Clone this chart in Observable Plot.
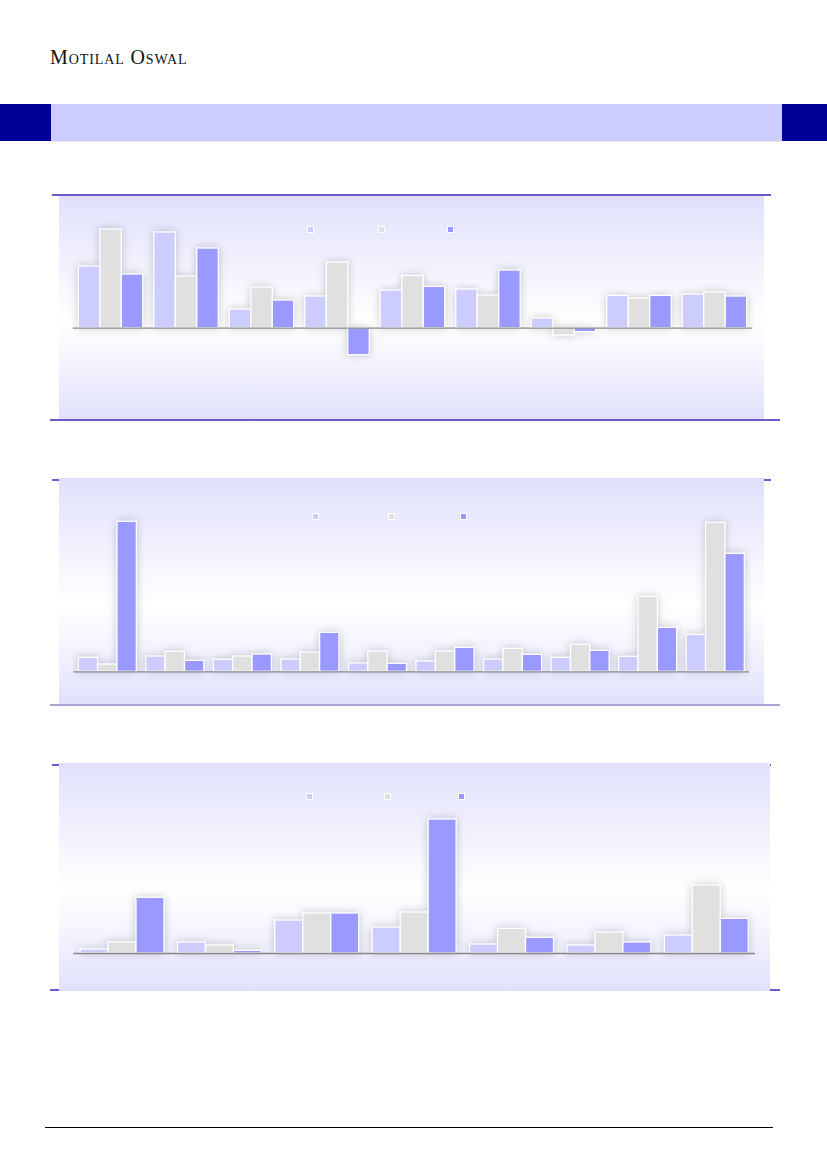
<!DOCTYPE html>
<html>
<head>
<meta charset="utf-8">
<script src="https://cdn.jsdelivr.net/npm/d3@7"></script>
<script src="https://cdn.jsdelivr.net/npm/@observablehq/plot@0.6"></script>
<style>
  body { margin: 0; background: #ffffff; }
  #page { position: relative; width: 827px; height: 1169px; overflow: hidden; background: #ffffff; }
  .abs { position: absolute; }
  .chart svg g[aria-label="bar"] { filter: drop-shadow(0 0 4px rgba(0,0,0,0.2)); }
  .brand { font-family: "Liberation Serif", "DejaVu Serif", serif; font-size: 20px; line-height: 20px;
           font-variant: small-caps; letter-spacing: 0.9px; color: #111; white-space: nowrap; }
  .sw { position: absolute; width: 5px; height: 5px; border: 1px solid #ffffff; }
</style>
</head>
<body>
<div id="page"></div>
<script>
// ---------- data ----------
const seriesNames = ["Series 1", "Series 2", "Series 3"];
const seriesColors = ["#CCCCFF", "#E0E0E0", "#9999FF"];

const chart1Groups = ["G1", "G2", "G3", "G4", "G5", "G6", "G7", "G8", "G9"];
const chart1S1 = [61.7, 95.7, 18.7, 31.7, 37.7, 38.7, 9.7, 32.3, 33.7];
const chart1S2 = [98.7, 51.7, 40.7, 65.7, 52.3, 32.7, -7.3, 29.7, 35.7];
const chart1S3 = [53.7, 79.7, 27.7, -27.0, 41.3, 57.7, -4.0, 32.3, 31.7];

const chart2Groups = ["H1", "H2", "H3", "H4", "H5", "H6", "H7", "H8", "H9", "H10"];
const chart2S1 = [14.0, 15.3, 12.0, 12.3, 8.3, 10.3, 12.3, 14.0, 15.0, 37.0];
const chart2S2 = [7.3, 20.0, 15.3, 19.3, 20.3, 20.3, 23.0, 27.0, 75.0, 149.0];
const chart2S3 = [150.0, 11.0, 17.3, 39.0, 8.0, 24.0, 17.0, 21.0, 44.0, 118.0];

const chart3Groups = ["K1", "K2", "K3", "K4", "K5", "K6", "K7"];
const chart3S1 = [4.0, 11.0, 33.0, 26.0, 9.0, 8.0, 18.0];
const chart3S2 = [11.0, 8.0, 40.0, 41.0, 24.7, 21.0, 68.0];
const chart3S3 = [55.7, 2.7, 40.0, 134.0, 15.7, 11.0, 34.7];

const brandText = "Motilal Oswal";

// ---------- page helpers ----------
const page = document.getElementById("page");
function box(x, y, w, h, bg, extra) {
  const d = document.createElement("div");
  d.className = "abs";
  Object.assign(d.style, { left: x + "px", top: y + "px", width: w + "px", height: h + "px", background: bg }, extra || {});
  page.appendChild(d);
  return d;
}

// header
const brand = document.createElement("div");
brand.className = "abs brand";
brand.style.left = "50px";
brand.style.top = "47px";
brand.textContent = brandText;
page.appendChild(brand);

box(0, 104, 51, 37, "#000099");
box(51, 104, 731, 37, "#CCCCFF");
box(782, 104, 45, 37, "#000099");
box(51, 141, 731, 1, "#E6E6F6");

// footer rule
box(45, 1127, 728, 1, "#000000");

// ---------- chart builder ----------
function drawChart(cfg) {
  const { groups, values, x, y, w, h, yDomain, padIn, padOut, mLeft, mRight, legend } = cfg;
  const data = [];
  groups.forEach((g, i) => seriesNames.forEach((s, j) => data.push({ group: g, series: s, value: values[j][i] })));
  const n = groups.length;
  const inner = w - mLeft - mRight;
  const step = inner / (n - padIn + 2 * padOut);
  const halfGap = step * padIn / 2;

  const svg = Plot.plot({
    width: w,
    height: h,
    marginTop: 0,
    marginBottom: 0,
    marginLeft: mLeft,
    marginRight: mRight,
    style: {
      background: "linear-gradient(180deg, #E0E0FC 0%, #F4F4FE 35%, #FFFFFF 56%, #F4F4FE 75%, #E0E0FC 100%)",
      overflow: "visible"
    },
    facet: { data, x: "group" },
    fx: { domain: groups, paddingInner: padIn, paddingOuter: padOut, round: false, axis: null, label: null },
    x: { domain: seriesNames, padding: 0, round: false, axis: null },
    y: { domain: yDomain, axis: null },
    color: { domain: seriesNames, range: seriesColors },
    marks: [
      Plot.barY(data, { x: "series", y: "value", fill: "series", stroke: "#ffffff", strokeWidth: 1.3 }),
      Plot.ruleY([0], { stroke: "#888888", strokeWidth: 1.3, insetLeft: -halfGap, insetRight: -halfGap })
    ]
  });
  const holder = document.createElement("div");
  holder.className = "abs chart";
  holder.style.left = x + "px";
  holder.style.top = y + "px";
  holder.style.width = w + "px";
  holder.style.height = h + "px";
  holder.appendChild(svg);
  page.appendChild(holder);

  // legend swatches (labels not visible in reference)
  legend.forEach((p, j) => {
    const s = document.createElement("div");
    s.className = "sw";
    s.style.left = p[0] + "px";
    s.style.top = p[1] + "px";
    s.style.background = seriesColors[j];
    page.appendChild(s);
  });
}

// ---------- chart 1 ----------
box(52, 193.5, 719, 2, "#6A5ACD");
box(50, 419.3, 730, 2, "#6A5ACD");
drawChart({
  groups: chart1Groups, values: [chart1S1, chart1S2, chart1S3],
  x: 59, y: 195.5, w: 705, h: 223.5, yDomain: [-91.8, 131.7],
  padIn: 0.146, padOut: 0.073, mLeft: 13.8, mRight: 11.8,
  legend: [[307, 226], [378, 226], [447, 226]]
});

// ---------- chart 2 ----------
box(52, 478.5, 719, 2, "#6A5ACD");
box(50, 704.3, 730, 2, "#A9A3D6");
drawChart({
  groups: chart2Groups, values: [chart2S1, chart2S2, chart2S3],
  x: 59, y: 478, w: 705, h: 226, yDomain: [-32.7, 193.3],
  padIn: 0.14, padOut: 0.07, mLeft: 14.5, mRight: 15,
  legend: [[312, 513], [388, 513], [460, 513]]
});

// ---------- chart 3 ----------
box(52, 763.5, 719, 2, "#6A5ACD");
box(50, 988.5, 730, 2, "#6A5ACD");
drawChart({
  groups: chart3Groups, values: [chart3S1, chart3S2, chart3S3],
  x: 59, y: 763, w: 711, h: 228, yDomain: [-38, 190],
  padIn: 0.138, padOut: 0.069, mLeft: 14.3, mRight: 15,
  legend: [[306, 793], [384, 793], [458, 793]]
});
</script>
</body>
</html>
